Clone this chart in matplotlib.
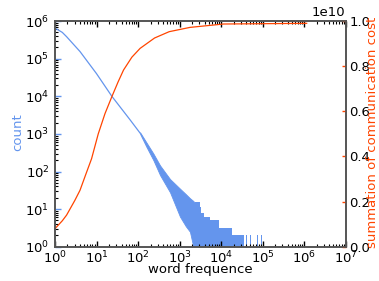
import numpy as np
import matplotlib
matplotlib.use("Agg")
import matplotlib.pyplot as plt
from matplotlib.ticker import LogLocator

# -------------------------------
# data
# -------------------------------
# main count curve (clean part)
freq_line = [1, 1.5, 1.9, 4, 10, 23.4, 64.6, 112]
count_line = [6.5e5, 5.0e5, 3.85e5, 1.55e5, 4.0e4, 1.0e4, 2350, 1050]

# noisy band: upper / lower envelope
freq_band = [112, 158, 234, 339, 589, 1023, 1413, 1778, 2138, 2290]
count_band_hi = [1100, 600, 300, 145, 63, 35, 25, 19.5, 16.5, 15]
count_band_lo = [1000, 460, 200, 80, 28, 6.3, 3.5, 2.5, 1, 1]

# tail (steps down to count 1, with gaps)
freq_tail = [2290, 3090, 3310, 3980, 5500, 8700, 18200, 36300, 38900, 41700,
             50100, 52500, 60300, 63100, 72400, 75900, 91200, 97700]
count_tail = [15, 11.5, 8, 6.3, 5.1, 3.1, 2.05, 1, 2, 1,
              2, 1, 2, 1, 2, 1, 2, 1]

# cumulative communication cost
freq_cost = [1, 1.5, 1.9, 3, 4, 5.5, 7.6, 11, 16, 23.4, 33, 44.7, 71, 112,
             250, 562, 1778, 11500, 1.15e6]
cost = [0.08e10, 0.115e10, 0.14e10, 0.205e10, 0.25e10, 0.32e10, 0.39e10,
        0.50e10, 0.59e10, 0.665e10, 0.73e10, 0.783e10, 0.84e10, 0.879e10,
        0.925e10, 0.953e10, 0.972e10, 0.987e10, 0.99e10]

BLUE = "cornflowerblue"
RED = "orangered"
FS = 9.5

plt.rcParams["font.family"] = "DejaVu Sans"
plt.rcParams["xtick.direction"] = "in"
plt.rcParams["ytick.direction"] = "in"

fig = plt.figure(figsize=(3.79, 2.81), dpi=100)
ax = fig.add_axes([0.1451, 0.122, 0.767, 0.803])

ax.plot(freq_line, count_line, color=BLUE, lw=0.9)
ax.fill_between(freq_band, count_band_lo, count_band_hi, color=BLUE, lw=0.6,
                edgecolor=BLUE)
ax.fill_between(freq_tail, 1, count_tail, step="post", color=BLUE, lw=0)

ax.set_xscale("log")
ax.set_yscale("log")
ax.set_xlim(1, 1e7)
ax.set_ylim(1, 1e6)

for axis in (ax.xaxis, ax.yaxis):
    axis.set_major_locator(LogLocator(numticks=20))
    axis.set_minor_locator(LogLocator(subs=np.arange(2, 10), numticks=20))

ax.tick_params(axis="x", which="both", top=True, labelsize=FS, pad=2)
ax.tick_params(axis="y", which="major", colors=BLUE, labelcolor="black",
               labelsize=FS, pad=4)
ax.tick_params(which="major", length=4, width=1)
ax.tick_params(which="minor", length=2, width=0.8)

ax2 = ax.twinx()
ax2.plot(freq_cost, cost, color=RED, lw=0.9)
ax2.set_ylim(0, 1e10)
ax2.set_yticks([0, 0.2e10, 0.4e10, 0.6e10, 0.8e10, 1e10])
ax2.set_yticklabels(["0.0", "0.2", "0.4", "0.6", "0.8", "1.0"])
ax2.tick_params(axis="y", colors=RED, labelcolor="black", labelsize=FS,
                length=3, width=1, pad=2.5)
# scale factor shown above the right spine
ax2.text(1.0, 1.008, "1e10", transform=ax2.transAxes, fontsize=FS,
         ha="right", va="bottom")

for a in (ax, ax2):
    for s in a.spines.values():
        s.set_color("#555555")
        s.set_linewidth(1.2)

fig.text(200 / 379, 1 - 270 / 281, "word frequence", fontsize=FS,
         ha="center", va="center")
fig.text(18 / 379, 1 - 132 / 281, "count", fontsize=FS, color=BLUE,
         rotation=90, ha="center", va="center")
fig.text(373 / 379, 1 - 132 / 281, "summation of communication cost",
         fontsize=FS, color=RED, rotation=90, ha="center", va="center")

fig.savefig("out.png", dpi=100, facecolor="white")
